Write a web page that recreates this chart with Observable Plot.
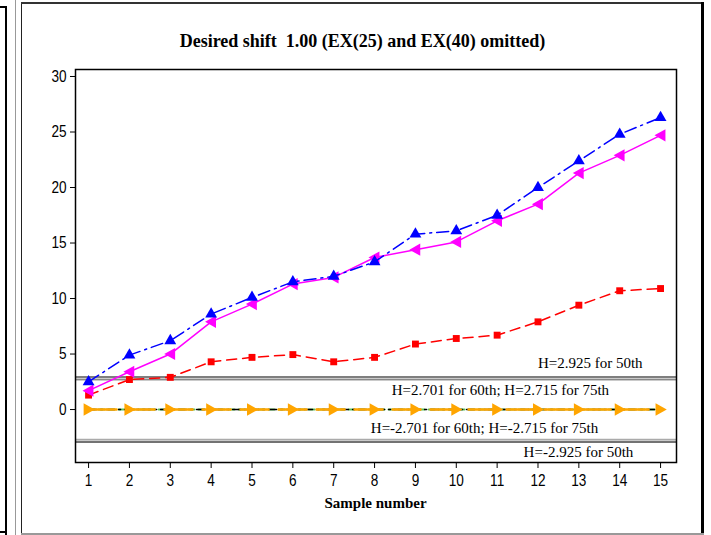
<!DOCTYPE html>
<html>
<head>
<meta charset="utf-8">
<script src="https://cdn.jsdelivr.net/npm/d3@7"></script>
<script src="https://cdn.jsdelivr.net/npm/@observablehq/plot@0.6"></script>
<style>
  html, body { margin: 0; padding: 0; background: #fff; }
  #wrap { position: relative; width: 711px; height: 535px; overflow: hidden; }
  .ln { position: absolute; }
  #title { position: absolute; left: 22px; width: 681px; top: 31px; text-align: center;
           font-family: "Liberation Serif", "Times New Roman", serif; font-weight: bold; font-size: 18px; white-space: pre; }
  #xlabel { position: absolute; left: 75px; width: 601px; top: 495px; text-align: center;
           font-family: "Liberation Serif", "Times New Roman", serif; font-weight: bold; font-size: 15px; }
  #chart { position: absolute; left: 0; top: 0; }
</style>
</head>
<body>
<div id="wrap">
  <div id="chart"></div>
  <div class="ln" style="left:0;top:6px;width:7px;height:2px;background:#000"></div>
  <div class="ln" style="left:5px;top:6px;width:2px;height:529px;background:#000"></div>
  <div class="ln" style="left:0;top:531px;width:7px;height:2px;background:#000"></div>
  <div class="ln" style="left:15px;top:0;width:1px;height:535px;background:#999"></div>
  <div class="ln" style="left:21px;top:3px;width:1px;height:532px;background:#222"></div>
  <div class="ln" style="left:21px;top:2px;width:683px;height:2px;background:#333"></div>
  <div class="ln" style="left:701px;top:2px;width:3px;height:533px;background:#000"></div>
  <div class="ln" style="left:21px;top:533px;width:683px;height:2px;background:#999"></div>
  <div id="title">Desired shift  1.00 (EX(25) and EX(40) omitted)</div>
  <div id="xlabel">Sample number</div>
</div>
<script>
const samples = [1,2,3,4,5,6,7,8,9,10,11,12,13,14,15];
const blueSeries    = [2.5, 4.9, 6.2, 8.6, 10.1, 11.5, 12.0, 13.3, 15.8, 16.1, 17.5, 20.0, 22.4, 24.8, 26.3];
const magentaSeries = [1.7, 3.4, 5.0, 7.9, 9.5, 11.3, 11.9, 13.7, 14.4, 15.1, 17.0, 18.5, 21.3, 22.9, 24.7];
const redSeries     = [1.3, 2.7, 2.9, 4.3, 4.7, 4.95, 4.3, 4.7, 5.9, 6.4, 6.7, 7.9, 9.4, 10.7, 10.9];
const greenSeries   = [0,0,0,0,0,0,0,0,0,0,0,0,0,0,0];
const blackSeries   = [0,0,0,0,0,0,0,0,0,0,0,0,0,0,0];
const orangeSeries  = [0,0,0,0,0,0,0,0,0,0,0,0,0,0,0];
const yTicks = [0,5,10,15,20,25,30];
const hUpper = [2.925, 2.715, 2.701];
const hLower = [-2.701, -2.715, -2.925];
const hLabels = ["H=2.925 for 50th", "H=2.701 for 60th; H=2.715 for 75th", "H=-2.701 for 60th; H=-2.715 for 75th", "H=-2.925 for 50th"];
const hLabelX = [14.56, 11.08, 10.69, 12.99];
const hLabelY = [4.14, 1.71, -1.71, -3.87];

const mk = (vals) => samples.map((s, i) => ({x: s, y: vals[i]}));

const triLeft = {draw(ctx, size) {
  const r = Math.sqrt(size / 1.3);
  ctx.moveTo(-r, 0); ctx.lineTo(r * 0.8, -r); ctx.lineTo(r * 0.8, r); ctx.closePath();
}};
const triRight = {draw(ctx, size) {
  const r = Math.sqrt(size / 1.3);
  ctx.moveTo(r, 0); ctx.lineTo(-r * 0.8, -r); ctx.lineTo(-r * 0.8, r); ctx.closePath();
}};

const serif = '"Liberation Serif", "Times New Roman", serif';
const sans = '"Liberation Sans Narrow", "Arial Narrow", "Liberation Sans", sans-serif';
const labelData = hLabels.map((t, i) => ({t, x: hLabelX[i], y: hLabelY[i]}));

const chart = Plot.plot({
  width: 711, height: 535,
  marginLeft: 75, marginRight: 35, marginTop: 69, marginBottom: 73,
  style: {fontFamily: sans, fontSize: "17px", background: "transparent"},
  x: {domain: [0.68, 15.39]},
  y: {domain: [-4.77, 30.63]},
  marks: [
    Plot.axisX(samples, {tickSize: 6, tickPadding: 5, label: null, tickFormat: d => String(d), fontSize: 17, fontFamily: sans}),
    Plot.axisY(yTicks, {tickSize: 5, tickPadding: 4, label: null, tickFormat: d => String(d), fontSize: 17, fontFamily: sans}),
    Plot.ruleY(hUpper, {stroke: (d, i) => i === 0 ? "#555" : "#888", strokeWidth: 1.5}),
    Plot.ruleY(hLower, {stroke: (d, i) => i === 2 ? "#444" : "#aaa", strokeWidth: 1.5}),
    Plot.text(labelData.filter((d, i) => i === 0), {x: "x", y: "y", text: "t", textAnchor: "end", fontFamily: serif, fontSize: 15, fill: "#000"}),
    Plot.text(labelData.filter((d, i) => i > 0), {x: "x", y: "y", text: "t", textAnchor: "middle", fontFamily: serif, fontSize: 15, fill: "#000"}),
    Plot.line(mk(greenSeries), {x: "x", y: "y", stroke: "#5ec45e", strokeWidth: 2, strokeDasharray: "6,4"}),
    Plot.line(mk(blackSeries), {x: "x", y: "y", stroke: "#000", strokeWidth: 1.5, strokeDasharray: "8,4,2,4"}),
    Plot.line(mk(orangeSeries), {x: "x", y: "y", stroke: "#FFA500", strokeWidth: 2.5, strokeDasharray: "28,10"}),
    Plot.dot(mk(orangeSeries), {x: "x", y: "y", symbol: triRight, r: 4, fill: "#FFA500", stroke: "none"}),
    Plot.line(mk(redSeries), {x: "x", y: "y", stroke: "#FF0000", strokeWidth: 1.5, strokeDasharray: "10,6"}),
    Plot.dot(mk(redSeries), {x: "x", y: "y", symbol: "square", r: 3.9, fill: "#FF0000", stroke: "none"}),
    Plot.line(mk(magentaSeries), {x: "x", y: "y", stroke: "#FF00FF", strokeWidth: 1.5}),
    Plot.dot(mk(magentaSeries), {x: "x", y: "y", symbol: triLeft, r: 3.9, fill: "#FF00FF", stroke: "none"}),
    Plot.line(mk(blueSeries), {x: "x", y: "y", stroke: "#0000FF", strokeWidth: 1.5, strokeDasharray: "12,5,2,5"}),
    Plot.dot(mk(blueSeries), {x: "x", y: "y", symbol: "triangle", r: 4.4, fill: "#0000FF", stroke: "none"}),
    Plot.frame({stroke: "#000", strokeWidth: 1.5})
  ]
});
d3.select(chart).selectAll("g[aria-label='x-axis tick label'] text, g[aria-label='y-axis tick label'] text")
  .attr("transform", function() { return (this.getAttribute("transform") || "") + " scale(0.8,1)"; });
document.getElementById("chart").appendChild(chart);
</script>
</body>
</html>
